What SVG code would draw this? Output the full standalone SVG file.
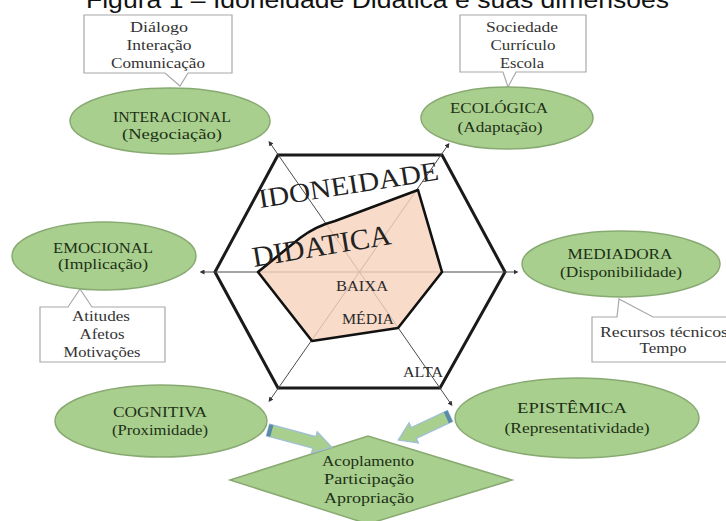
<svg xmlns="http://www.w3.org/2000/svg" width="726" height="521" viewBox="0 0 726 521">
  <defs>
    <style>
      .title { font-family: "Liberation Sans", Arial, sans-serif; font-size: 24px; fill: #111; }
      .node { fill: #a9cf8e; stroke: #88aa72; stroke-width: 1.5; }
      .lbl { font-family: "Liberation Serif", "Times New Roman", serif; font-size: 14px; fill: #1c3016; text-anchor: middle; }
      .note { fill: #fff; stroke: #a8a8a8; stroke-width: 1.2; }
      .ntxt { font-family: "Liberation Serif", "Times New Roman", serif; font-size: 14px; fill: #333; text-anchor: middle; }
      .axis { stroke: #4a4a4a; stroke-width: 1; fill: none; }
      .big { font-family: "Liberation Serif", "Times New Roman", serif; fill: #222; }
      .lvl { font-family: "Liberation Serif", "Times New Roman", serif; font-size: 14px; fill: #2a2a2a; text-anchor: middle; }
      .barrow { fill: #a9cf8e; stroke: #9fbfd6; stroke-width: 1.3; }
      .btail { fill: #5a8aaa; }
    </style>
    <marker id="tip" viewBox="0 0 6 6" refX="3" refY="3" markerWidth="5" markerHeight="5" orient="auto-start-reverse">
      <path d="M0,0 L6,3 L0,6 Z" fill="#333"/>
    </marker>
  </defs>

  <rect width="726" height="521" fill="#fff"/>

  <!-- caption, cut at the top edge -->
  <text class="title" x="86" y="8" textLength="583" lengthAdjust="spacingAndGlyphs">Figura 1 – Idoneidade Didática e suas dimensões</text>

  <!-- outer hexagon -->
  <g id="hexagon">
    <polygon points="278,155 442,155 505,272 440,388 278,388 215,272" fill="none" stroke="#1a1a1a" stroke-width="3" stroke-linejoin="miter"/>
  </g>

  <!-- axes through the hexagon and the block arrows -->
  <g id="connectors">
    <line class="axis" x1="202" y1="272" x2="516" y2="272" marker-start="url(#tip)" marker-end="url(#tip)"/>
    <line class="axis" x1="270" y1="143" x2="451" y2="404" marker-start="url(#tip)" marker-end="url(#tip)"/>
    <line class="axis" x1="448" y1="145" x2="270" y2="400" marker-start="url(#tip)" marker-end="url(#tip)"/>
  </g>

  <!-- assessed profile -->
  <g id="profile">
    <path d="M258,272 L300,238 Q316,226 335,221 L418,190 L442,272 L398,328 L312,341 Z" fill="#f6d2bb" fill-opacity="0.8" stroke="#111" stroke-width="2.6" stroke-linejoin="round"/>
    <text class="big" font-size="27" x="260" y="208" textLength="182" lengthAdjust="spacingAndGlyphs" transform="rotate(-9 260 208)">IDONEIDADE</text>
    <text class="big" font-size="29" x="254" y="267" textLength="140" lengthAdjust="spacingAndGlyphs" transform="rotate(-9.5 254 267)">DIDATICA</text>
    <text class="lvl" x="362" y="291" textLength="52" lengthAdjust="spacingAndGlyphs">BAIXA</text>
    <text class="lvl" x="368" y="324" textLength="52" lengthAdjust="spacingAndGlyphs">MÉDIA</text>
    <text class="lvl" x="423" y="377" textLength="40" lengthAdjust="spacingAndGlyphs">ALTA</text>
  </g>

  <!-- callout notes -->
  <g id="note-interacional">
    <path class="note" d="M84,15 H232 V73 H188 L180,86 L165,73 H84 Z"/>
    <text class="ntxt" x="159" y="32" textLength="58" lengthAdjust="spacingAndGlyphs">Diálogo</text>
    <text class="ntxt" x="159" y="50" textLength="65" lengthAdjust="spacingAndGlyphs">Interação</text>
    <text class="ntxt" x="158" y="68" textLength="94" lengthAdjust="spacingAndGlyphs">Comunicação</text>
  </g>
  <g id="note-ecologica">
    <path class="note" d="M460,15 H586 V72 H516 L508,87 L503,72 H460 Z"/>
    <text class="ntxt" x="522" y="32" textLength="72" lengthAdjust="spacingAndGlyphs">Sociedade</text>
    <text class="ntxt" x="523" y="50" textLength="65" lengthAdjust="spacingAndGlyphs">Currículo</text>
    <text class="ntxt" x="522" y="68" textLength="44" lengthAdjust="spacingAndGlyphs">Escola</text>
  </g>
  <g id="note-emocional">
    <path class="note" d="M40,307 H68 L80,289 L92,307 H165 V362 H40 Z"/>
    <text class="ntxt" x="101" y="321" textLength="58" lengthAdjust="spacingAndGlyphs">Atitudes</text>
    <text class="ntxt" x="102" y="339" textLength="45" lengthAdjust="spacingAndGlyphs">Afetos</text>
    <text class="ntxt" x="102" y="357" textLength="77" lengthAdjust="spacingAndGlyphs">Motivações</text>
  </g>
  <g id="note-mediadora">
    <path class="note" d="M592,317 H617 L619,299 L653,317 H732 V362 H592 Z"/>
    <text class="ntxt" x="664" y="337" textLength="128" lengthAdjust="spacingAndGlyphs">Recursos técnicos</text>
    <text class="ntxt" x="663" y="353" textLength="47" lengthAdjust="spacingAndGlyphs">Tempo</text>
  </g>

  <!-- dimensions -->
  <g id="interacional">
    <ellipse class="node" cx="170" cy="121" rx="100" ry="33"/>
    <text class="lbl" x="172" y="122" textLength="118" lengthAdjust="spacingAndGlyphs">INTERACIONAL</text>
    <text class="lbl" x="172" y="139" textLength="100" lengthAdjust="spacingAndGlyphs">(Negociação)</text>
  </g>
  <g id="ecologica">
    <ellipse class="node" cx="507" cy="118" rx="86" ry="31"/>
    <text class="lbl" x="499" y="113" textLength="98" lengthAdjust="spacingAndGlyphs">ECOLÓGICA</text>
    <text class="lbl" x="500" y="132" textLength="85" lengthAdjust="spacingAndGlyphs">(Adaptação)</text>
  </g>
  <g id="emocional">
    <ellipse class="node" cx="104" cy="256" rx="92" ry="34"/>
    <text class="lbl" x="103" y="253" textLength="100" lengthAdjust="spacingAndGlyphs">EMOCIONAL</text>
    <text class="lbl" x="103" y="269" textLength="90" lengthAdjust="spacingAndGlyphs">(Implicação)</text>
  </g>
  <g id="mediadora">
    <ellipse class="node" cx="621" cy="264" rx="99" ry="33"/>
    <text class="lbl" x="620" y="259" textLength="105" lengthAdjust="spacingAndGlyphs">MEDIADORA</text>
    <text class="lbl" x="621" y="277" textLength="122" lengthAdjust="spacingAndGlyphs">(Disponibilidade)</text>
  </g>
  <g id="cognitiva">
    <ellipse class="node" cx="161" cy="421" rx="106" ry="36"/>
    <text class="lbl" x="160" y="417" textLength="94" lengthAdjust="spacingAndGlyphs">COGNITIVA</text>
    <text class="lbl" x="160" y="435" textLength="96" lengthAdjust="spacingAndGlyphs">(Proximidade)</text>
  </g>
  <g id="epistemica">
    <ellipse class="node" cx="577" cy="418" rx="122" ry="40"/>
    <text class="lbl" x="572" y="413" textLength="110" lengthAdjust="spacingAndGlyphs">EPISTÊMICA</text>
    <text class="lbl" x="577" y="433" textLength="145" lengthAdjust="spacingAndGlyphs">(Representatividade)</text>
  </g>

  <!-- outcome -->
  <g id="apropriacao">
    <polygon class="node" points="230,480 368,436 512,480 368,524"/>
    <text class="lbl" x="368" y="466" textLength="92" lengthAdjust="spacingAndGlyphs">Acoplamento</text>
    <text class="lbl" x="369" y="484" textLength="90" lengthAdjust="spacingAndGlyphs">Participação</text>
    <text class="lbl" x="369" y="503" textLength="90" lengthAdjust="spacingAndGlyphs">Apropriação</text>
  </g>

  <!-- block arrows feeding the outcome -->
  <g id="block-arrows">
    <g transform="translate(268,430) rotate(15)">
      <path class="barrow" d="M0,-6 H48 V-11 L66,0 L48,11 V6 H0 Z"/>
      <rect class="btail" x="0" y="-6" width="4" height="12"/>
    </g>
    <g transform="translate(450,416) rotate(155)">
      <path class="barrow" d="M0,-6 H40 V-11 L57,0 L40,11 V6 H0 Z"/>
      <rect class="btail" x="0" y="-6" width="4" height="12"/>
    </g>
  </g>
</svg>
